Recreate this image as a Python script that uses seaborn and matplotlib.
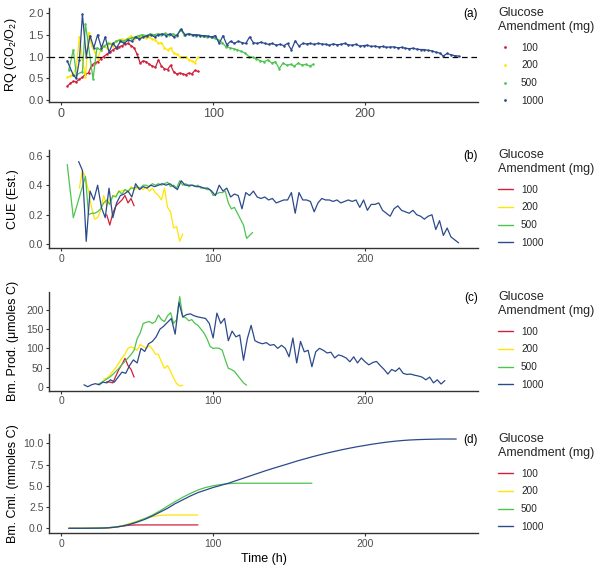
import numpy as np
import pandas as pd
import matplotlib
matplotlib.use("Agg")
import matplotlib.pyplot as plt
import seaborn as sns
from matplotlib.lines import Line2D

# ---------------- data ----------------
levels = ["100", "200", "500", "1000"]
colors = ["#D0203A", "#FFE500", "#4DC44D", "#2B4A8C"]

# (a) RQ
rq_100_t0, rq_100_dt = 4, 2
rq_100 = [0.32, 0.38, 0.43, 0.42, 0.48, 0.52, 0.60, 0.62, 0.80, 0.85, 0.88, 0.95, 1.00, 1.05,
          1.10, 1.15, 1.20, 1.22, 1.25, 1.28, 1.30, 1.25, 1.20, 1.05, 0.85, 0.90, 0.88, 0.82,
          0.78, 0.75, 0.92, 0.78, 0.72, 0.70, 0.80, 0.65, 0.60, 0.62, 0.60, 0.58, 0.62, 0.60,
          0.68, 0.66]
rq_200_t0, rq_200_dt = 4, 2
rq_200 = [0.52, 0.55, 0.60, 0.75, 1.45, 0.95, 0.52, 1.55, 1.25, 1.10, 0.95, 1.15, 1.25, 1.20,
          1.30, 1.25, 1.35, 1.38, 1.40, 1.38, 1.42, 1.48, 1.40, 1.45, 1.42, 1.48, 1.42, 1.45,
          1.40, 1.38, 1.30, 1.32, 1.20, 1.15, 1.20, 1.08, 1.05, 1.00, 0.98, 1.00, 0.92, 0.90,
          0.86, 0.98]
rq_500_t_early = [5, 8, 10, 14, 16, 21]
rq_500_early = [0.69, 1.15, 0.58, 0.65, 1.75, 0.48]
rq_500_t0, rq_500_dt = 23.5, 2.5
rq_500 = [1.20, 1.15, 1.25, 1.30, 1.28, 1.35, 1.38, 1.35, 1.40, 1.42, 1.45, 1.48, 1.50, 1.48,
          1.52, 1.50, 1.52, 1.50, 1.53, 1.50, 1.52, 1.48, 1.62, 1.50, 1.52, 1.50, 1.48, 1.50,
          1.47, 1.45, 1.45, 1.42, 1.38, 1.32, 1.22, 1.20, 1.18, 1.15, 1.12, 1.08, 1.00, 0.98,
          0.95, 0.90, 0.88, 0.92, 0.85, 0.88, 0.72, 0.85, 0.80, 0.82, 0.78, 0.85, 0.80, 0.82,
          0.78, 0.82]
rq_1000_t_early = [4, 8, 10, 12, 14]
rq_1000_early = [0.90, 0.57, 0.50, 0.92, 1.97]
rq_1000_t0, rq_1000_dt = 16.5, 2.5
rq_1000 = [1.00, 1.48, 1.20, 1.50, 1.20, 1.45, 1.10, 1.30, 1.20, 1.35, 1.30, 1.38, 1.35, 1.45,
           1.40, 1.45, 1.48, 1.50, 1.45, 1.50, 1.52, 1.48, 1.52, 1.45, 1.50, 1.63, 1.50, 1.52,
           1.50, 1.50, 1.48, 1.48, 1.47, 1.45, 1.48, 1.30, 1.48, 1.27, 1.35, 1.30, 1.35, 1.32,
           1.30, 1.45, 1.32, 1.30, 1.33, 1.30, 1.28, 1.30, 1.26, 1.28, 1.25, 1.30, 1.15, 1.36,
           1.24, 1.30, 1.29, 1.30, 1.28, 1.30, 1.29, 1.28, 1.26, 1.29, 1.27, 1.28, 1.30, 1.27,
           1.26, 1.28, 1.24, 1.25, 1.26, 1.23, 1.24, 1.22, 1.23, 1.21, 1.22, 1.22, 1.20, 1.21,
           1.19, 1.18, 1.19, 1.17, 1.16, 1.16, 1.14, 1.13, 1.10, 1.08, 1.01, 1.07, 1.04, 1.02,
           1.01]

# (b) CUE
cue_100_t0, cue_100_dt = 30, 2
cue_100 = [0.20, 0.13, 0.21, 0.26, 0.28, 0.30, 0.33, 0.28, 0.31, 0.26]
cue_200_t0, cue_200_dt = 12, 2
cue_200 = [0.38, 0.50, 0.45, 0.36, 0.25, 0.17, 0.18, 0.23, 0.33, 0.26, 0.30, 0.32, 0.33, 0.36,
           0.36, 0.37, 0.35, 0.39, 0.37, 0.38, 0.38, 0.37, 0.39, 0.36, 0.38, 0.35, 0.33, 0.30,
           0.38, 0.25, 0.22, 0.11, 0.12, 0.02, 0.07]
cue_500_t_early = [4, 8, 16, 18]
cue_500_early = [0.54, 0.18, 0.46, 0.20]
cue_500_t0, cue_500_dt = 20, 2
cue_500 = [0.21, 0.21, 0.22, 0.24, 0.28, 0.30, 0.27, 0.33, 0.32, 0.36, 0.34, 0.37, 0.36, 0.38,
           0.38, 0.39, 0.38, 0.40, 0.40, 0.39, 0.41, 0.40, 0.41, 0.40, 0.41, 0.42, 0.39, 0.40,
           0.38, 0.43, 0.40, 0.41, 0.39, 0.40, 0.39, 0.40, 0.38, 0.38, 0.37, 0.37, 0.33, 0.34,
           0.35, 0.35, 0.36, 0.28, 0.24, 0.25, 0.21, 0.17, 0.13, 0.04, 0.06, 0.08]
cue_1000_t0, cue_1000_dt = 11.5, 2.5
cue_1000 = [0.56, 0.50, 0.02, 0.36, 0.30, 0.40, 0.25, 0.18, 0.38, 0.18, 0.28, 0.33, 0.34, 0.36,
            0.32, 0.41, 0.37, 0.39, 0.38, 0.40, 0.39, 0.40, 0.41, 0.40, 0.41, 0.39, 0.37, 0.43,
            0.40, 0.40, 0.40, 0.39, 0.39, 0.38, 0.38, 0.36, 0.33, 0.40, 0.36, 0.38, 0.32, 0.34,
            0.33, 0.24, 0.35, 0.33, 0.36, 0.32, 0.31, 0.32, 0.30, 0.31, 0.28, 0.29, 0.30, 0.30,
            0.35, 0.21, 0.35, 0.30, 0.30, 0.29, 0.22, 0.28, 0.31, 0.30, 0.30, 0.29, 0.30, 0.28,
            0.29, 0.30, 0.29, 0.30, 0.25, 0.30, 0.23, 0.27, 0.27, 0.28, 0.23, 0.21, 0.19, 0.24,
            0.26, 0.23, 0.22, 0.21, 0.23, 0.20, 0.19, 0.17, 0.19, 0.20, 0.10, 0.16, 0.06, 0.11,
            0.05, 0.03, 0.01]

# (c) biomass production (umoles C)
bp_100_t0, bp_100_dt = 30, 2
bp_100 = [13, 12, 10, 28, 45, 58, 74, 55, 45, 25]
bp_200_t0, bp_200_dt = 28, 2
bp_200 = [20, 22, 30, 40, 50, 62, 75, 85, 100, 104, 100, 95, 110, 105, 100, 108, 98, 85, 84,
          65, 48, 55, 40, 22, 8, 2, 4]
bp_500_t0, bp_500_dt = 24, 2
bp_500 = [6, 10, 15, 20, 25, 32, 40, 48, 58, 66, 75, 84, 95, 125, 140, 165, 168, 170, 165, 170,
          187, 175, 170, 185, 193, 165, 175, 235, 182, 180, 172, 175, 165, 160, 150, 140, 125,
          105, 100, 101, 100, 95, 70, 48, 45, 40, 30, 20, 10, 4]
bp_1000_t0, bp_1000_dt = 15, 2.5
bp_1000 = [5, 0, 5, 8, 5, 12, 10, 18, 12, 25, 38, 35, 55, 70, 62, 100, 92, 112, 118, 130, 150,
           158, 168, 178, 137, 220, 182, 188, 190, 185, 182, 180, 178, 165, 127, 192, 165, 178,
           120, 145, 130, 135, 69, 125, 160, 120, 115, 112, 115, 108, 110, 100, 108, 100, 78,
           127, 62, 118, 91, 95, 52, 91, 100, 95, 88, 90, 75, 83, 80, 75, 65, 78, 62, 75, 65,
           57, 63, 66, 55, 45, 33, 45, 40, 49, 35, 32, 33, 30, 28, 25, 18, 25, 10, 18, 7, 16]

# (d) cumulative biomass (mmoles C)
cml_t0, cml_dt = 5, 5
cml_100 = [0, 0, 0, 0.01, 0.02, 0.05, 0.12, 0.25, 0.37, 0.40, 0.40, 0.40, 0.40, 0.40, 0.40,
           0.40, 0.40, 0.40]
cml_200 = [0, 0, 0, 0.01, 0.02, 0.06, 0.15, 0.30, 0.55, 0.85, 1.15, 1.38, 1.52, 1.56, 1.56,
           1.56, 1.56, 1.56]
cml_500 = [0, 0, 0, 0.01, 0.02, 0.06, 0.14, 0.28, 0.50, 0.80, 1.15, 1.55, 2.05, 2.60, 3.15,
           3.65, 4.10, 4.50, 4.80, 5.00, 5.15, 5.25, 5.30, 5.30, 5.30, 5.30, 5.30, 5.30, 5.30,
           5.30, 5.30, 5.30, 5.30]
cml_1000 = [0, 0, 0, 0.01, 0.02, 0.05, 0.12, 0.25, 0.45, 0.72, 1.05, 1.45, 1.90, 2.35, 2.90,
            3.35, 3.80, 4.20, 4.50, 4.80, 5.05, 5.30, 5.60, 5.90, 6.20, 6.50, 6.80, 7.08, 7.35,
            7.62, 7.90, 8.15, 8.40, 8.63, 8.85, 9.05, 9.25, 9.43, 9.60, 9.75, 9.90, 10.03,
            10.15, 10.25, 10.33, 10.39, 10.43, 10.46, 10.48, 10.50, 10.50, 10.50]

x_ticks = [0, 100, 200]
legend_title = "Glucose\nAmendment (mg)"


def times(t0, dt, vals, early_t=None):
    t = list(t0 + dt * np.arange(len(vals)))
    return (list(early_t) if early_t else []) + t


def frame(series):
    rows = []
    for lev, (t, v) in zip(levels, series):
        rows.append(pd.DataFrame({"t": t, "v": v, "g": lev}))
    return pd.concat(rows, ignore_index=True)


df_a = frame([
    (times(rq_100_t0, rq_100_dt, rq_100), rq_100),
    (times(rq_200_t0, rq_200_dt, rq_200), rq_200),
    (times(rq_500_t0, rq_500_dt, rq_500, rq_500_t_early), rq_500_early + rq_500),
    (times(rq_1000_t0, rq_1000_dt, rq_1000, rq_1000_t_early), rq_1000_early + rq_1000),
])
df_b = frame([
    (times(cue_100_t0, cue_100_dt, cue_100), cue_100),
    (times(cue_200_t0, cue_200_dt, cue_200), cue_200),
    (times(cue_500_t0, cue_500_dt, cue_500, cue_500_t_early), cue_500_early + cue_500),
    (times(cue_1000_t0, cue_1000_dt, cue_1000), cue_1000),
])
df_c = frame([
    (times(bp_100_t0, bp_100_dt, bp_100), bp_100),
    (times(bp_200_t0, bp_200_dt, bp_200), bp_200),
    (times(bp_500_t0, bp_500_dt, bp_500), bp_500),
    (times(bp_1000_t0, bp_1000_dt, bp_1000), bp_1000),
])
df_d = frame([
    (times(cml_t0, cml_dt, cml_100), cml_100),
    (times(cml_t0, cml_dt, cml_200), cml_200),
    (times(cml_t0, cml_dt, cml_500), cml_500),
    (times(cml_t0, cml_dt, cml_1000), cml_1000),
])

# ---------------- style ----------------
sns.set_style("ticks")
plt.rcParams["font.family"] = ["Liberation Sans", "DejaVu Sans"]
plt.rcParams["mathtext.default"] = "regular"
palette = dict(zip(levels, colors))

W, H = 600, 569
fig = plt.figure(figsize=(6.0, 5.69), dpi=100)

# panel boxes in pixels: (left, top, right, bottom)
boxes = [(49, 8, 478, 102), (49, 150, 478, 248), (49, 292, 478, 390.7), (49, 434, 478, 533)]
ylims = [(-0.046, 2.115), (-0.025, 0.638), (-10.4, 247), (-0.55, 11.09)]
yticks = [[0, 0.5, 1.0, 1.5, 2.0], [0, 0.2, 0.4, 0.6], [0, 50, 100, 150, 200],
          [0, 2.5, 5.0, 7.5, 10.0]]
yfmt = ["{:.1f}", "{:.1f}", "{:.0f}", "{:.1f}"]
ylabels = [r"RQ (CO$_2$/O$_2$)", "CUE (Est.)", "Bm. Prod. (\u03bcmoles C)",
           "Bm. Cml. (mmoles C)"]
tags = ["(a)", "(b)", "(c)", "(d)"]
dfs = [df_a, df_b, df_c, df_d]

tick_col = "#4D4D4D"
axis_col = "#333333"

for i, (box, df) in enumerate(zip(boxes, dfs)):
    l, t, r, b = box
    ax = fig.add_axes([l / W, 1 - b / H, (r - l) / W, (b - t) / H])
    if i == 0:
        sns.lineplot(data=df, x="t", y="v", hue="g", hue_order=levels, palette=palette,
                     estimator=None, sort=False, lw=0.9, marker="o", markersize=1.8,
                     markeredgewidth=0, legend=False, ax=ax)
        ax.axhline(1.0, color="black", lw=0.9, ls=(0, (4.5, 3)), zorder=5)
    else:
        sns.lineplot(data=df, x="t", y="v", hue="g", hue_order=levels, palette=palette,
                     estimator=None, sort=False, lw=0.9, legend=False, ax=ax)
    ax.set_xlim(-8, 274.3)
    ax.set_ylim(*ylims[i])
    ax.set_xticks(x_ticks)
    ax.set_xticklabels([str(v) for v in x_ticks])
    ax.set_yticks(yticks[i])
    ax.set_yticklabels([yfmt[i].format(v) for v in yticks[i]])
    sns.despine(ax=ax)
    for s in ["left", "bottom"]:
        ax.spines[s].set_color(axis_col)
        ax.spines[s].set_linewidth(1.0)
    xs = 9 if i == 0 else 7.5
    ys = 8 if i == 0 else 7.5
    ax.tick_params(axis="x", colors=axis_col, labelcolor=tick_col, labelsize=xs,
                   length=2.5, width=0.8, pad=1.5)
    ax.tick_params(axis="y", colors=axis_col, labelcolor=tick_col, labelsize=ys,
                   length=2.5, width=0.8, pad=1.5)
    ax.set_ylabel(ylabels[i], fontsize=9, color="black")
    ax.yaxis.set_label_coords(-30 / (r - l), 0.5)
    if i == 3:
        ax.set_xlabel("Time (h)", fontsize=9, color="black", labelpad=3)
    else:
        ax.set_xlabel("")
    ax.text(1.0, 1 - 6 / (b - t), tags[i], transform=ax.transAxes, ha="right", va="center",
            fontsize=8.5, color="black")
    ax.set_facecolor("white")

    if i == 0:
        handles = [Line2D([], [], ls="", marker="o", ms=2.0, mew=0, color=c) for c in colors]
    else:
        handles = [Line2D([], [], lw=1.0, color=c) for c in colors]
    leg = ax.legend(handles, levels, title=legend_title, loc="upper left",
                    bbox_to_anchor=((498 - l) / (r - l), 1 + 1 / (b - t)), frameon=False,
                    fontsize=7.2, title_fontsize=9, handlelength=1.45, handletextpad=0.85,
                    labelspacing=0.78, borderpad=0, borderaxespad=0, alignment="left")
    leg._legend_box.sep = 7

fig.savefig("out.png", dpi=100, facecolor="white")
